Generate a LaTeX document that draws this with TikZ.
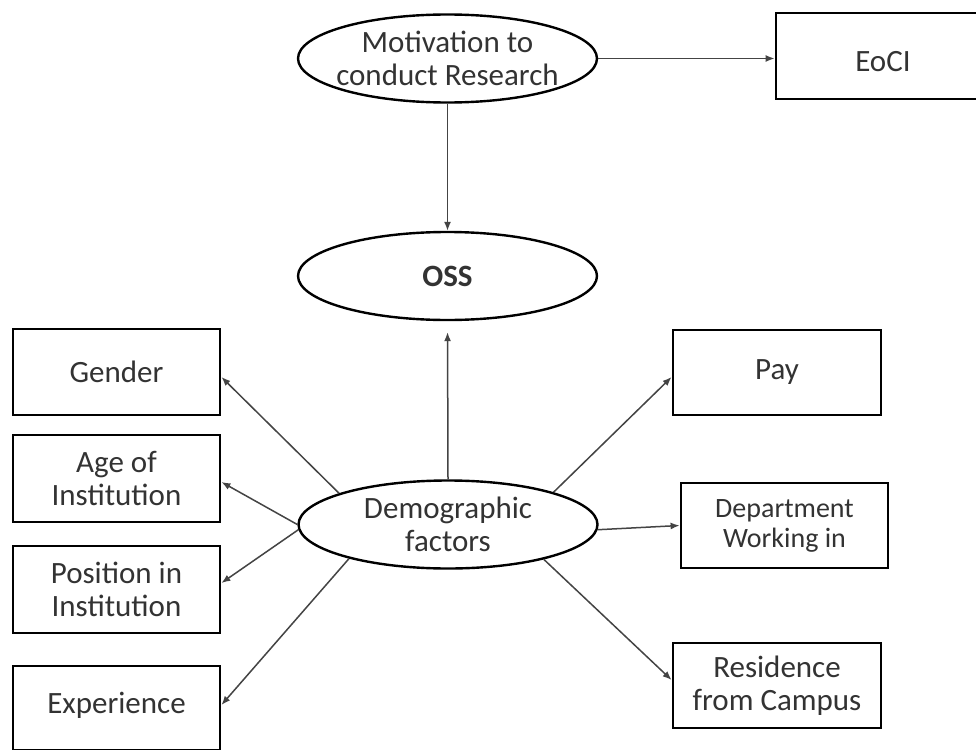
\documentclass[tikz,border=0pt]{standalone}
\usepackage{fontspec}
\setmainfont{Carlito}
\usetikzlibrary{arrows.meta,shapes.geometric}
\definecolor{ink}{HTML}{333333}
\definecolor{wire}{HTML}{444444}
\begin{document}
\begin{tikzpicture}[x=1pt,y=-1pt,
  box/.style={draw=black,line width=2.8pt,rectangle,inner sep=0pt,align=center,
    text=ink,font=\fontsize{31}{33}\selectfont},
  oval/.style={draw=black,line width=2.4pt,ellipse,inner xsep=-30pt,inner ysep=-20pt,
    minimum width=299pt,minimum height=88pt,align=center,text=ink,
    font=\fontsize{31}{33}\selectfont},
  link/.style={draw=wire,line width=1.5pt,-{Latex[length=9pt,width=7pt]}}
]
\useasboundingbox (0,0) rectangle (976,749);
\fill[white] (0,0) rectangle (976,749);
\clip (0,0) rectangle (976,749);

% central column
\node[oval] (motiv) at (447.5,58.5) {Motivation to\\conduct Research};
\node[oval,font=\fontsize{31}{33}\selectfont\bfseries] (oss) at (447.5,276) {OSS};
\node[oval] (dem) at (448,524.5) {Demographic\\factors};

% outcome box (runs past the right edge)
\node[box,minimum width=214pt,minimum height=86pt] (eoci) at (883,56)
  {\raisebox{-6pt}[\height][\depth]{EoCI}};

% left column
\node[box,minimum width=207pt,minimum height=86pt] (gender) at (116.5,372) {Gender};
\node[box,minimum width=207pt,minimum height=87pt] (age) at (116.5,478.5) {Age of\\Institution};
\node[box,minimum width=207pt,minimum height=87pt] (position) at (116.5,589.5) {Position in\\Institution};
\node[box,minimum width=207pt,minimum height=84pt] (experience) at (116.5,708)
  {\raisebox{3pt}[\height][\depth]{Experience}};

% right column
\node[box,minimum width=208pt,minimum height=85pt] (pay) at (777,372.5) {Pay};
\node[box,minimum width=207pt,minimum height=85pt,font=\fontsize{28}{30}\selectfont] (dept) at (784.5,525.5) {Department\\Working in};
\node[box,minimum width=208pt,minimum height=85pt] (residence) at (777,685.5) {Residence\\from Campus};

% connectors
\draw[link] (motiv.east) -- (motiv.east -| eoci.west);
\draw[link] (motiv.south) -- (oss.north);
\draw[link,shorten >=11pt] (dem.north) -- (oss.south);

\draw[link] (dem.164) -- ([yshift=-5pt]gender.east);
\draw[link] (dem.180) -- ([yshift=-3.5pt]age.east);
\draw[link] (dem.182) -- ([yshift=6.5pt]position.east);
\draw[link] (dem.199) -- ([yshift=3pt]experience.east);

\draw[link] (dem.17) -- ([yshift=-4.5pt]pay.west);
\draw[link] (dem.-2) -- (dept.west);
\draw[link] (dem.-20) -- ([yshift=5.5pt]residence.west);
\end{tikzpicture}
\end{document}
